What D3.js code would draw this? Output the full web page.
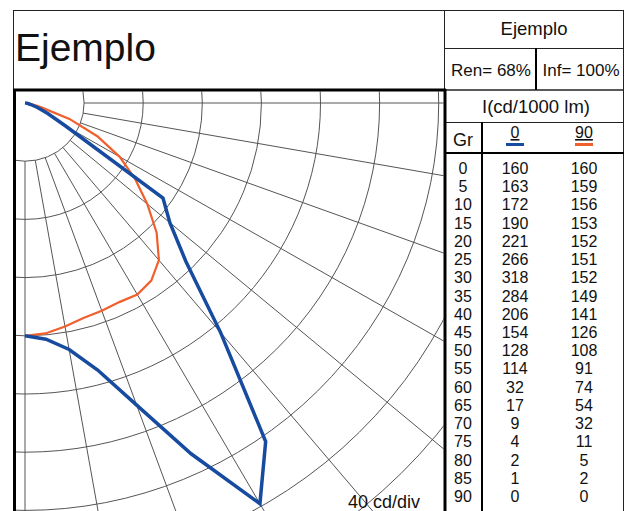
<!DOCTYPE html>
<html>
<head>
<meta charset="utf-8">
<script src="https://cdn.jsdelivr.net/npm/d3@7"></script>
<style>
    body { margin: 0; background: #fff; }
    svg text { font-family: "Liberation Sans", Arial, Helvetica, sans-serif; fill: #111; }
</style>
</head>
<body>
<svg id="chart" width="630" height="511"></svg>
<script>
// datos de la curva fotometrica (cd/1000 lm)
let grados = [0, 5, 10, 15, 20, 25, 30, 35, 40, 45, 50, 55, 60, 65, 70, 75, 80, 85, 90];
let plano0 = [160, 163, 172, 190, 221, 266, 318, 284, 206, 154, 128, 114, 32, 17, 9, 4, 2, 1, 0];
let plano90 = [160, 159, 156, 153, 152, 151, 152, 149, 141, 126, 108, 91, 74, 54, 32, 11, 5, 2, 0];
let planos = ["0", "90"];
let colores = ["#174b9f", "#f05f2c"];
let titulo = "Ejemplo";
let rendimiento = "Ren= 68%";
let inflexion = "Inf= 100%";
let unidades = "I(cd/1000 lm)";
let cdPorDiv = 40;
let anillos = d3.range(1, 13);
let radiales = d3.range(0, 91, 10);

let svg = d3.select("#chart");

let cx = 25, cy = 103;
// escala radial (un poco distinta en x e y, como en la imagen)
let rX = d3.scaleLinear().domain([0, cdPorDiv]).range([0, 59.1]);
let rY = d3.scaleLinear().domain([0, cdPorDiv]).range([0, 58.2]);
let ang = d3.scaleLinear().domain([0, 90]).range([0, Math.PI / 2]);

function px(g, v) { return cx + rX(v) * Math.sin(ang(g)); }
function py(g, v) { return cy + rY(v) * Math.cos(ang(g)); }

svg.append("clipPath").attr("id", "zona")
    .append("rect")
    .attr("x", 15.5).attr("y", 91.5)
    .attr("width", 428).attr("height", 430);

let polar = svg.append("g").attr("clip-path", "url(#zona)");

// anillos
polar.selectAll(".anillo")
    .data(anillos)
    .enter().append("ellipse")
    .attr("class", "anillo")
    .attr("cx", cx).attr("cy", cy)
    .attr("rx", function(k) { return rX(k * cdPorDiv); })
    .attr("ry", function(k) { return rY(k * cdPorDiv); })
    .attr("fill", "none")
    .attr("stroke", "#555")
    .attr("stroke-width", 1);

// lineas radiales, desde la primera division hacia fuera
polar.selectAll(".radial")
    .data(radiales)
    .enter().append("line")
    .attr("class", "radial")
    .attr("x1", function(g) { return px(g, cdPorDiv); })
    .attr("y1", function(g) { return py(g, cdPorDiv); })
    .attr("x2", function(g) { return px(g, cdPorDiv * 14); })
    .attr("y2", function(g) { return py(g, cdPorDiv * 14); })
    .attr("stroke", "#555")
    .attr("stroke-width", 1);

let curvas = [plano0, plano90].map(function(serie) {
    return serie.map(function(v, i) { return { g: grados[i], v: v }; });
});

let linea = d3.line()
    .x(function(d) { return px(d.g, d.v); })
    .y(function(d) { return py(d.g, d.v); });

polar.selectAll(".curva")
    .data(curvas)
    .enter().append("path")
    .attr("class", "curva")
    .attr("d", linea)
    .attr("fill", "none")
    .attr("stroke", function(d, i) { return colores[i]; })
    .attr("stroke-width", function(d, i) { return i == 0 ? 3.5 : 2.2; })
    .attr("stroke-linejoin", "miter");

// reordenar: la naranja por debajo del azul como en el original? (azul encima)
polar.selectAll(".curva").filter(function(d, i) { return i == 0; }).raise();

svg.append("text")
    .attr("x", 348).attr("y", 508)
    .style("font-size", "18px")
    .text(cdPorDiv + " cd/div");

// marco y tabla
let trazo = "#222";
function raya(x1, y1, x2, y2, w) {
    svg.append("line")
        .attr("x1", x1).attr("y1", y1).attr("x2", x2).attr("y2", y2)
        .attr("stroke", w > 1.5 ? "#000" : trazo)
        .attr("stroke-width", w);
}

svg.append("rect")
    .attr("x", 13.5).attr("y", 10.5)
    .attr("width", 610).attr("height", 520)
    .attr("fill", "none").attr("stroke", trazo).attr("stroke-width", 1);

raya(444.5, 10, 444.5, 90, 1);
raya(444, 48.5, 624, 48.5, 1);
raya(536, 48, 536, 90, 2);
raya(444, 90, 624, 90, 1.5);
raya(13, 90, 446, 90, 3);
raya(14.5, 89, 14.5, 520, 3);
raya(445, 89, 445, 520, 3);
raya(446, 122.5, 624, 122.5, 1);
raya(482, 122, 482, 520, 2);
raya(446, 153, 624, 153, 2);

svg.append("text")
    .attr("x", 15).attr("y", 61)
    .style("font-size", "39px")
    .text(titulo);

svg.append("text")
    .attr("x", 534).attr("y", 35)
    .attr("text-anchor", "middle")
    .style("font-size", "18.5px")
    .text(titulo);

svg.append("text")
    .attr("x", 491).attr("y", 76)
    .attr("text-anchor", "middle")
    .style("font-size", "17px")
    .text(rendimiento);

svg.append("text")
    .attr("x", 581).attr("y", 76)
    .attr("text-anchor", "middle")
    .style("font-size", "17px")
    .text(inflexion);

svg.append("text")
    .attr("x", 536).attr("y", 113)
    .attr("text-anchor", "middle")
    .style("font-size", "18.5px")
    .text(unidades);

svg.append("text")
    .attr("x", 463).attr("y", 146)
    .attr("text-anchor", "middle")
    .style("font-size", "18px")
    .text("Gr");

let colX = [515, 584];
planos.forEach(function(p, i) {
    svg.append("text")
        .attr("x", colX[i]).attr("y", 138)
        .attr("text-anchor", "middle")
        .style("font-size", "16px")
        .style("text-decoration", "underline")
        .text(p);
    svg.append("line")
        .attr("x1", colX[i] - 9).attr("x2", colX[i] + 9)
        .attr("y1", 144.5).attr("y2", 144.5)
        .attr("stroke", colores[i])
        .attr("stroke-width", 3);
});

let fila = d3.scaleLinear().domain([0, 90]).range([174, 502]);

let filas = svg.selectAll(".fila")
    .data(grados)
    .enter().append("g")
    .attr("class", "fila")
    .attr("transform", function(g) { return "translate(0," + fila(g) + ")"; });

filas.append("text")
    .attr("x", 463)
    .attr("text-anchor", "middle")
    .style("font-size", "16px")
    .text(function(g) { return g; });

filas.append("text")
    .attr("x", colX[0])
    .attr("text-anchor", "middle")
    .style("font-size", "16px")
    .text(function(g, i) { return plano0[i]; });

filas.append("text")
    .attr("x", colX[1])
    .attr("text-anchor", "middle")
    .style("font-size", "16px")
    .text(function(g, i) { return plano90[i]; });
</script>
</body>
</html>
